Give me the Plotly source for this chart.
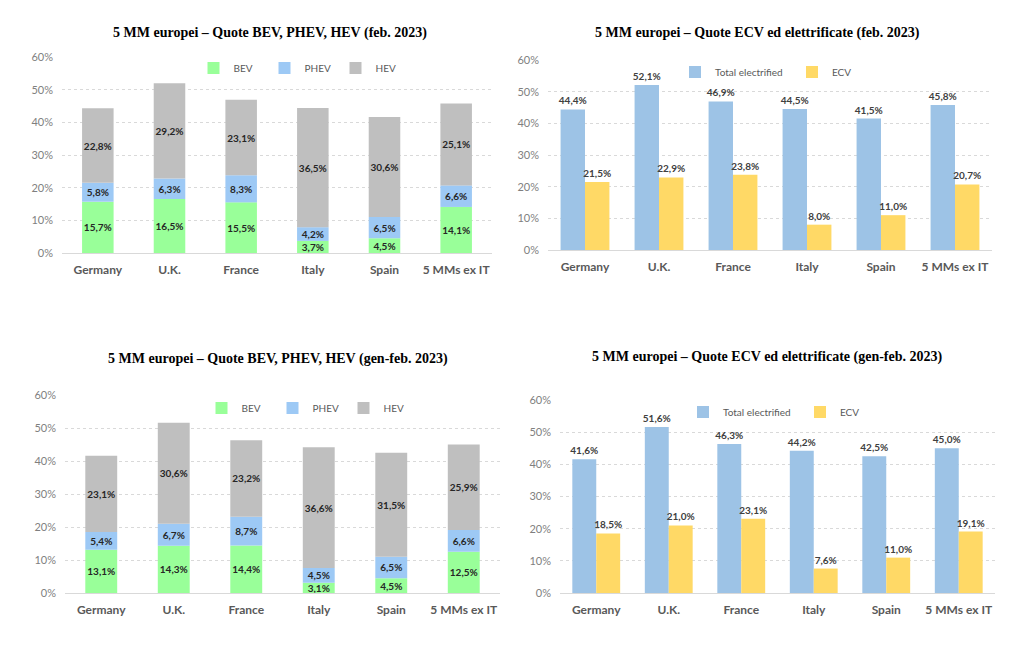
import plotly.graph_objects as go

categories = ["Germany", "U.K.", "France", "Italy", "Spain", "5 MMs ex IT"]

# Feb 2023 stacked
feb_bev = [15.7, 16.5, 15.5, 3.7, 4.5, 14.1]
feb_phev = [5.8, 6.3, 8.3, 4.2, 6.5, 6.6]
feb_hev = [22.8, 29.2, 23.1, 36.5, 30.6, 25.1]

# Feb 2023 grouped
feb_total = [44.4, 52.1, 46.9, 44.5, 41.5, 45.8]
feb_ecv = [21.5, 22.9, 23.8, 8.0, 11.0, 20.7]

# Jan-Feb 2023 stacked
gf_bev = [13.1, 14.3, 14.4, 3.1, 4.5, 12.5]
gf_phev = [5.4, 6.7, 8.7, 4.5, 6.5, 6.6]
gf_hev = [23.1, 30.6, 23.2, 36.6, 31.5, 25.9]

# Jan-Feb 2023 grouped
gf_total = [41.6, 51.6, 46.3, 44.2, 42.5, 45.0]
gf_ecv = [18.5, 21.0, 23.1, 7.6, 11.0, 19.1]

titles = [
    "5 MM europei – Quote BEV, PHEV, HEV (feb. 2023)",
    "5 MM europei – Quote ECV ed elettrificate (feb. 2023)",
    "5 MM europei – Quote BEV, PHEV, HEV (gen-feb. 2023)",
    "5 MM europei – Quote ECV ed elettrificate (gen-feb. 2023)",
]

C_BEV = "#99FF99"
C_PHEV = "#9DC9F5"
C_HEV = "#BFBFBF"
C_TOT = "#9DC3E6"
C_ECV = "#FFD966"

# page has an 8px body margin; work in screenshot pixels and convert
OFF = 8
W, H = 1024 - 2 * OFF, 651 - 2 * OFF

def px_x(p):
    return (p - OFF) / W

def px_y(p):
    return 1 - (p - OFF) / H

def dx(a, b):
    return [px_x(a), px_x(b)]

def dy(top, bottom):
    return [px_y(bottom), px_y(top)]

fig = go.Figure()

label_font_in = dict(family="Lato, Open Sans, sans-serif", size=10, color="#262626")
label_font_out = dict(family="Lato, Open Sans, sans-serif", size=10, color="#404040")

def stacked(vals_list, names, colors, xa, ya, leg):
    for v, n, c in zip(vals_list, names, colors):
        fig.add_trace(go.Bar(
            x=categories, y=v, name=n, marker=dict(color=c, line=dict(width=0)),
            xaxis=xa, yaxis=ya, legend=leg, width=0.44,
            texttemplate="<b>%{y:.1f}%</b>", textposition="inside", textangle=0,
            insidetextanchor="middle", constraintext="none",
            textfont=label_font_in, hoverinfo="skip",
        ))

def grouped(vals_list, names, colors, offsets, xa, ya, leg):
    for v, n, c, o in zip(vals_list, names, colors, offsets):
        fig.add_trace(go.Bar(
            x=categories, y=v, name=n, marker=dict(color=c, line=dict(width=0)),
            xaxis=xa, yaxis=ya, legend=leg, offsetgroup=n, width=0.33, offset=o,
            texttemplate="<b>%{y:.1f}%</b>", textposition="outside", textangle=0,
            constraintext="none", cliponaxis=False,
            textfont=label_font_out, hoverinfo="skip",
        ))

stacked([feb_bev, feb_phev, feb_hev], ["BEV", "PHEV", "HEV"], [C_BEV, C_PHEV, C_HEV], "x", "y", "legend")
grouped([feb_total, feb_ecv], ["Total electrified", "ECV"], [C_TOT, C_ECV], [-0.33, 0.0], "x2", "y2", "legend2")
stacked([gf_bev, gf_phev, gf_hev], ["BEV", "PHEV", "HEV"], [C_BEV, C_PHEV, C_HEV], "x3", "y3", "legend3")
grouped([gf_total, gf_ecv], ["Total electrified", "ECV"], [C_TOT, C_ECV], [-0.33, 0.0], "x4", "y4", "legend4")

tick_font = dict(family="Lato, Open Sans, sans-serif", size=11, color="#7F7F7F")
cat_font = dict(family="Lato, Open Sans, sans-serif", size=12, color="#595959")

def xaxis(domain, anchor):
    return dict(domain=domain, anchor=anchor, showgrid=False, showline=True,
                linecolor="#D9D9D9", linewidth=1, ticks="",
                tickfont=cat_font, tickprefix="<b>", ticksuffix="</b>",
                ticklabelstandoff=6, fixedrange=True)

def yaxis(domain, anchor):
    return dict(domain=domain, anchor=anchor, range=[0, 60], dtick=10,
                ticksuffix="%", showgrid=True, gridcolor="#D9D9D9", griddash="dot",
                gridwidth=1, zeroline=False, showline=False, tickfont=tick_font,
                ticks="", ticklabelstandoff=8, fixedrange=True)

# plot areas (screenshot pixels): left, right, top(60%), bottom(0%)
areas = [
    (62, 492, 57, 253),
    (548, 992, 60, 250),
    (65, 500, 395, 593),
    (560, 995, 400, 593),
]

fig.update_layout(
    width=W, height=H, paper_bgcolor="white", plot_bgcolor="white",
    margin=dict(l=0, r=0, t=0, b=0, autoexpand=False), separators=",.",
    barmode="relative", showlegend=True,
)

names = ["", "2", "3", "4"]
for i, (l, r, t, b) in enumerate(areas):
    n = names[i]
    fig.layout["xaxis" + n] = xaxis(dx(l, r), "y" + n)
    fig.layout["yaxis" + n] = yaxis(dy(t, b), "x" + n)

def legend_cfg(x, y):
    return dict(x=px_x(x), y=px_y(y), orientation="h", xanchor="center", yanchor="middle",
                font=dict(family="Lato, Open Sans, sans-serif", size=10, color="#595959"),
                bgcolor="rgba(0,0,0,0)", itemwidth=30, tracegroupgap=0,
                entrywidthmode="pixels")

fig.update_layout(
    legend=dict(**legend_cfg(300, 68), entrywidth=26),
    legend2=dict(**legend_cfg(792, 72), entrywidth=72),
    legend3=dict(**legend_cfg(308, 408), entrywidth=26),
    legend4=dict(**legend_cfg(800, 412), entrywidth=72),
)

title_centers = [(270, 33), (757, 33), (278, 359), (767, 357)]
for t, (cx, cy) in zip(titles, title_centers):
    fig.add_annotation(text="<b>" + t + "</b>", x=px_x(cx), y=px_y(cy),
                       xref="paper", yref="paper", showarrow=False,
                       xanchor="center", yanchor="middle",
                       font=dict(family="Liberation Serif, serif", size=14, color="#000000"))

fig.write_html("out.html")
